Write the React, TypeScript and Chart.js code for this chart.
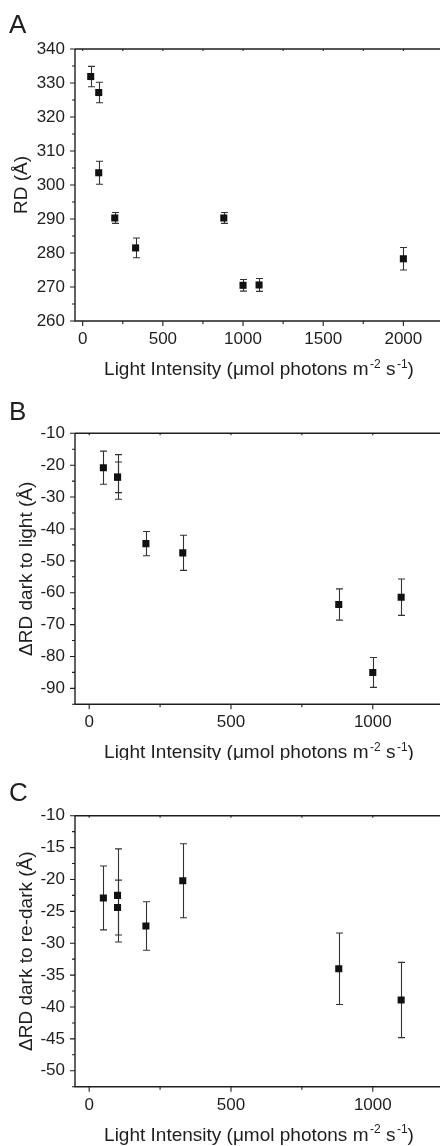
import React, { useEffect, useRef } from 'react';
import { Chart, registerables } from 'chart.js';
Chart.register(...registerables);

const FONT = '"Liberation Sans", Arial, Helvetica, sans-serif';
const INK = '#1e1e1e';

// Panel A: RD vs light intensity
const xA = [50, 100, 100, 200, 330, 880, 1000, 1100, 2000];
const yA = [331.9, 327.2, 303.6, 290.3, 281.5, 290.3, 270.5, 270.6, 278.3];
const errA = [3.0, 3.0, 3.4, 1.6, 2.9, 1.6, 1.7, 1.9, 3.3];
const xTicksA = [0, 500, 1000, 1500, 2000];
const xMinorA = [250, 750, 1250, 1750, 2250];
const yTicksA = [260, 270, 280, 290, 300, 310, 320, 330, 340];
const yMinorA = [265, 275, 285, 295, 305, 315, 325, 335];

// Panel B: ΔRD dark to light
const xB = [50, 100, 100, 200, 330, 880, 1000, 1100];
const yB = [-20.8, -23.7, -23.8, -44.6, -47.5, -63.7, -85.0, -61.4];
const errB = [5.2, 7.0, 4.8, 3.8, 5.5, 4.9, 4.7, 5.7];
const xTicksB = [0, 500, 1000];
const xMinorB = [250, 750];
const yTicksB = [-90, -80, -70, -60, -50, -40, -30, -20, -10];
const yMinorB = [-95, -85, -75, -65, -55, -45, -35, -25, -15];

// Panel C: ΔRD dark to re-dark
const xC = [50, 100, 100, 200, 330, 880, 1100];
const yC = [-22.9, -22.5, -24.4, -27.3, -20.2, -34.0, -38.9];
const errC = [5.0, 7.3, 4.3, 3.8, 5.8, 5.6, 5.9];
const xTicksC = [0, 500, 1000];
const xMinorC = [250, 750];
const yTicksC = [-50, -45, -40, -35, -30, -25, -20, -15, -10];
const yMinorC = [-52.5, -47.5, -42.5, -37.5, -32.5, -27.5, -22.5, -17.5, -12.5];

type Panel = {
  letter: string;
  yTitle: string;
  xs: number[];
  ys: number[];
  errs: number[];
  xMin: number;
  xMax: number;
  yMin: number;
  yMax: number;
  xTicks: number[];
  xMinor: number[];
  yTicks: number[];
  yMinor: number[];
  height: number;
  plotTop: number;
  plotBottom: number;
  letterBaseline: number;
  yTitleX: number;
};

const panels: Panel[] = [
  {
    letter: 'A', yTitle: 'RD (Å)', xs: xA, ys: yA, errs: errA,
    xMin: -48, xMax: 2228.5, yMin: 260, yMax: 340,
    xTicks: xTicksA, xMinor: xMinorA, yTicks: yTicksA, yMinor: yMinorA,
    height: 380, plotTop: 49, plotBottom: 321, letterBaseline: 33, yTitleX: 27,
  },
  {
    letter: 'B', yTitle: 'ΔRD dark to light (Å)', xs: xB, ys: yB, errs: errB,
    xMin: -50, xMax: 1237, yMin: -95, yMax: -10,
    xTicks: xTicksB, xMinor: xMinorB, yTicks: yTicksB, yMinor: yMinorB,
    height: 380, plotTop: 53.3, plotBottom: 324.3, letterBaseline: 40, yTitleX: 32,
  },
  {
    letter: 'C', yTitle: 'ΔRD dark to re-dark (Å)', xs: xC, ys: yC, errs: errC,
    xMin: -50, xMax: 1237, yMin: -52.5, yMax: -10,
    xTicks: xTicksC, xMinor: xMinorC, yTicks: yTicksC, yMinor: yMinorC,
    height: 386, plotTop: 55.7, plotBottom: 326.7, letterBaseline: 41, yTitleX: 32,
  },
];

function drawXTitle(ctx: CanvasRenderingContext2D, cx: number, baseline: number) {
  const parts = [
    { t: 'Light Intensity (μmol photons m', sup: false },
    { t: '-2', sup: true },
    { t: ' s', sup: false },
    { t: '-1', sup: true },
    { t: ')', sup: false },
  ];
  const big = `19px ${FONT}`;
  const small = `12px ${FONT}`;
  let total = 0;
  const widths = parts.map((p) => {
    ctx.font = p.sup ? small : big;
    const w = ctx.measureText(p.t).width + (p.sup ? 1.5 : 0);
    total += w;
    return w;
  });
  let x = cx - total / 2;
  ctx.textAlign = 'left';
  ctx.textBaseline = 'alphabetic';
  parts.forEach((p, i) => {
    ctx.font = p.sup ? small : big;
    ctx.fillText(p.t, x + (p.sup ? 1.5 : 0), p.sup ? baseline - 7.5 : baseline);
    x += widths[i];
  });
}

const decorPlugin = {
  id: 'decor',
  beforeDatasetsDraw(chart: any) {
    const p: Panel = chart.options.plugins.decor.panel;
    const ctx = chart.ctx as CanvasRenderingContext2D;
    const xs = chart.scales.x;
    const ys = chart.scales.y;
    ctx.save();
    ctx.strokeStyle = '#333';
    ctx.lineWidth = 1.1;
    p.xs.forEach((xv, i) => {
      const px = Math.round(xs.getPixelForValue(xv)) + 0.5;
      const top = ys.getPixelForValue(p.ys[i] + p.errs[i]);
      const bot = ys.getPixelForValue(p.ys[i] - p.errs[i]);
      ctx.beginPath();
      ctx.moveTo(px, top);
      ctx.lineTo(px, bot);
      ctx.moveTo(px - 3.5, top);
      ctx.lineTo(px + 3.5, top);
      ctx.moveTo(px - 3.5, bot);
      ctx.lineTo(px + 3.5, bot);
      ctx.stroke();
    });
    ctx.restore();
  },
  afterDraw(chart: any) {
    const p: Panel = chart.options.plugins.decor.panel;
    const ctx = chart.ctx as CanvasRenderingContext2D;
    const a = chart.chartArea;
    const xs = chart.scales.x;
    const ys = chart.scales.y;
    ctx.save();
    ctx.strokeStyle = INK;
    ctx.lineWidth = 1.4;
    ctx.beginPath();
    ctx.moveTo(a.left, a.top);
    ctx.lineTo(a.left, a.bottom);
    ctx.lineTo(a.right, a.bottom);
    ctx.moveTo(a.left, a.top);
    ctx.lineTo(a.right, a.top);
    ctx.stroke();
    ctx.lineWidth = 1.1;
    ctx.beginPath();
    p.yTicks.forEach((v) => {
      const y = ys.getPixelForValue(v);
      ctx.moveTo(a.left - 5, y);
      ctx.lineTo(a.left, y);
    });
    p.yMinor.forEach((v) => {
      const y = ys.getPixelForValue(v);
      ctx.moveTo(a.left - 3, y);
      ctx.lineTo(a.left, y);
    });
    p.xTicks.forEach((v) => {
      const x = xs.getPixelForValue(v);
      ctx.moveTo(x, a.bottom);
      ctx.lineTo(x, a.bottom + 5);
      ctx.moveTo(x, a.top);
      ctx.lineTo(x, a.top + 2);
    });
    p.xMinor.forEach((v) => {
      const x = xs.getPixelForValue(v);
      if (x > a.right) return;
      ctx.moveTo(x, a.bottom);
      ctx.lineTo(x, a.bottom + 3);
      ctx.moveTo(x, a.top);
      ctx.lineTo(x, a.top + 2);
    });
    ctx.stroke();

    ctx.fillStyle = INK;
    ctx.font = `26px ${FONT}`;
    ctx.textAlign = 'left';
    ctx.textBaseline = 'alphabetic';
    ctx.fillText(p.letter, 9, p.letterBaseline);
    ctx.save();
    ctx.font = `19px ${FONT}`;
    ctx.translate(p.yTitleX, (a.top + a.bottom) / 2);
    ctx.rotate(-Math.PI / 2);
    ctx.textAlign = 'center';
    ctx.textBaseline = 'alphabetic';
    ctx.fillText(p.yTitle, 0, 0);
    ctx.restore();
    drawXTitle(ctx, 259, a.bottom + 54);
    ctx.restore();
  },
};

function PanelChart({ panel }: { panel: Panel }) {
  const ref = useRef<HTMLCanvasElement>(null);
  useEffect(() => {
    if (!ref.current) return;
    const data = panel.xs.map((x, i) => ({ x, y: panel.ys[i] }));
    const chart = new Chart(ref.current, {
      type: 'scatter',
      data: {
        datasets: [
          {
            data,
            pointStyle: 'rect',
            pointRadius: 5,
            pointBackgroundColor: '#111',
            pointBorderWidth: 0,
            showLine: false,
          },
        ],
      },
      options: {
        responsive: false,
        animation: false,
        events: [],
        layout: {
          autoPadding: false,
          padding: { top: panel.plotTop, left: 0, right: 0, bottom: 0 },
        },
        plugins: {
          legend: { display: false },
          tooltip: { enabled: false },
          decor: { panel },
        } as any,
        scales: {
          x: {
            type: 'linear',
            min: panel.xMin,
            max: panel.xMax,
            grid: { display: false, drawTicks: false },
            border: { display: false },
            afterBuildTicks: (s: any) => {
              s.ticks = panel.xTicks.map((v) => ({ value: v }));
            },
            afterFit: (s: any) => {
              s.height = panel.height - panel.plotBottom;
              s.paddingLeft = 0;
              s.paddingRight = 0;
            },
            ticks: {
              font: { family: FONT, size: 17 },
              color: INK,
              padding: 8,
              maxRotation: 0,
              autoSkip: false,
              callback: (v: any) => String(v),
            },
          },
          y: {
            type: 'linear',
            min: panel.yMin,
            max: panel.yMax,
            grid: { display: false, drawTicks: false },
            border: { display: false },
            afterBuildTicks: (s: any) => {
              s.ticks = panel.yTicks.map((v) => ({ value: v }));
            },
            afterFit: (s: any) => {
              s.width = 75;
              s.paddingTop = 0;
              s.paddingBottom = 0;
            },
            ticks: {
              font: { family: FONT, size: 17 },
              color: INK,
              padding: 10,
              autoSkip: false,
              callback: (v: any) => String(v),
            },
          },
        },
      },
      plugins: [decorPlugin],
    } as any);
    return () => chart.destroy();
  }, [panel]);
  return (
    <div style={{ width: 440, height: panel.height }}>
      <canvas ref={ref} width={440} height={panel.height} style={{ display: 'block' }} />
    </div>
  );
}

export default function App() {
  return (
    <div style={{ width: 440, height: 1146, background: '#fff' }}>
      <style>{`html,body{margin:0;padding:0;overflow:hidden;background:#fff}`}</style>
      {panels.map((p) => (
        <PanelChart key={p.letter} panel={p} />
      ))}
    </div>
  );
}
